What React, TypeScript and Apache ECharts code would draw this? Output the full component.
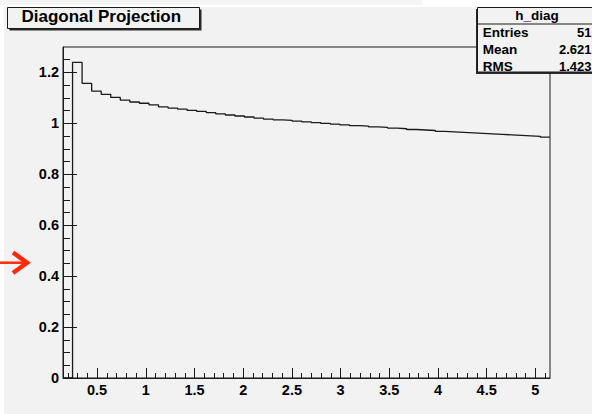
import React, { useEffect, useRef } from "react";
import * as echarts from "echarts";

// ---- data ----
const X_MIN = 0.15;
const X_MAX = 5.15;
const Y_MIN = 0;
const Y_MAX = 1.3;
const binValues = [
  0, 1.2395, 1.157, 1.127, 1.114, 1.102, 1.091, 1.084, 1.079, 1.073,
  1.065, 1.06, 1.056, 1.051, 1.047, 1.042, 1.037, 1.033, 1.029, 1.025,
  1.021, 1.017, 1.014, 1.012, 1.009, 1.006, 1.003, 1.0, 0.997, 0.994,
  0.991, 0.989, 0.986, 0.984, 0.981, 0.979, 0.976, 0.974, 0.972, 0.969,
  0.967, 0.965, 0.963, 0.961, 0.959, 0.957, 0.955, 0.953, 0.951, 0.949,
  0.946,
];
const xMajorTicks = [0.5, 1, 1.5, 2, 2.5, 3, 3.5, 4, 4.5, 5];
const xMinorTicks = Array.from({ length: 50 }, (_, k) => (k + 2) / 10);
const yMajorTicks = [0, 0.2, 0.4, 0.6, 0.8, 1, 1.2];
const yMinorTicks = Array.from({ length: 26 }, (_, k) => (k * 5) / 100);

const statsTitle = "h_diag";
const statsLabels = ["Entries", "Mean", "RMS"];
const statsValues = ["51", "2.621", "1.423"];
const chartTitle = "Diagonal Projection";

const FONT = '"Liberation Sans", Arial, Helvetica, sans-serif';
const BG = "#f2f2f2";
const INK = "#1a1a1a";

export default function App() {
  const ref = useRef<HTMLDivElement>(null);

  useEffect(() => {
    if (!ref.current) return;
    const chart = echarts.init(ref.current, undefined, { renderer: "svg" });
    const binW = (X_MAX - X_MIN) / binValues.length;
    const data: number[][] = binValues.map((v, i) => [X_MIN + i * binW, v]);
    data.push([X_MAX, binValues[binValues.length - 1]]);

    const axisLineStyle = { color: INK, width: 1 };
    const labelStyle = {
      fontFamily: FONT,
      fontWeight: "bold" as const,
      fontSize: 14.5,
      color: "#000",
    };

    const statsRows = [32, 49, 66];

    chart.setOption({
      animation: false,
      backgroundColor: "transparent",
      grid: {
        left: 63,
        top: 47,
        right: 42,
        bottom: 36,
        show: true,
        backgroundColor: "transparent",
        borderColor: INK,
        borderWidth: 1,
        containLabel: false,
        outerBoundsMode: "none",
      },
      xAxis: [
        {
          type: "value",
          min: X_MIN,
          max: X_MAX,
          position: "bottom",
          axisLine: { show: true, lineStyle: axisLineStyle },
          axisTick: {
            show: true,
            inside: true,
            length: 10,
            customValues: xMajorTicks,
            lineStyle: axisLineStyle,
          },
          axisLabel: { show: true, customValues: xMajorTicks, margin: 4, ...labelStyle },
          splitLine: { show: false },
        },
        {
          type: "value",
          min: X_MIN,
          max: X_MAX,
          position: "bottom",
          axisLine: { show: false },
          axisTick: {
            show: true,
            inside: true,
            length: 5,
            customValues: xMinorTicks,
            lineStyle: axisLineStyle,
          },
          axisLabel: { show: false },
          splitLine: { show: false },
        },
      ],
      yAxis: [
        {
          type: "value",
          min: Y_MIN,
          max: Y_MAX,
          position: "left",
          axisLine: { show: true, lineStyle: axisLineStyle },
          axisTick: {
            show: true,
            inside: true,
            length: 14,
            customValues: yMajorTicks,
            lineStyle: axisLineStyle,
          },
          axisLabel: { show: true, customValues: yMajorTicks, margin: 4, ...labelStyle },
          splitLine: { show: false },
        },
        {
          type: "value",
          min: Y_MIN,
          max: Y_MAX,
          position: "left",
          axisLine: { show: false },
          axisTick: {
            show: true,
            inside: true,
            length: 7,
            customValues: yMinorTicks,
            lineStyle: axisLineStyle,
          },
          axisLabel: { show: false },
          splitLine: { show: false },
        },
      ],
      series: [
        {
          type: "line",
          step: "end",
          xAxisIndex: 0,
          yAxisIndex: 0,
          data,
          symbol: "none",
          lineStyle: { color: INK, width: 1.3 },
          clip: true,
          silent: true,
        },
      ],
      graphic: [
        // title box
        { type: "rect", z: 100, shape: { x: 9.5, y: 9.5, width: 192, height: 21 }, style: { fill: "#2a2a2a" } },
        {
          type: "rect",
          z: 101,
          shape: { x: 7.5, y: 7.5, width: 192, height: 21 },
          style: { fill: BG, stroke: INK, lineWidth: 1 },
        },
        {
          type: "text",
          z: 102,
          x: 21.5,
          y: 16.8,
          style: {
            text: chartTitle,
            font: `bold 17px ${FONT}`,
            fill: "#000",
            verticalAlign: "middle",
            align: "left",
          },
        },
        // stats box
        { type: "rect", z: 100, shape: { x: 476, y: 9, width: 130, height: 65 }, style: { fill: "#2a2a2a" } },
        {
          type: "rect",
          z: 101,
          shape: { x: 477.5, y: 7.5, width: 130, height: 64.5 },
          style: { fill: BG, stroke: INK, lineWidth: 1 },
        },
        {
          type: "line",
          z: 102,
          shape: { x1: 477.5, y1: 24, x2: 600, y2: 24 },
          style: { stroke: INK, lineWidth: 1.2 },
        },
        {
          type: "text",
          z: 102,
          x: 537,
          y: 15.3,
          style: {
            text: statsTitle,
            font: `bold 13.5px ${FONT}`,
            fill: "#000",
            verticalAlign: "middle",
            align: "center",
          },
        },
        ...statsLabels.map((t, i) => ({
          type: "text",
          z: 102,
          x: 482.7,
          y: statsRows[i],
          style: {
            text: t,
            font: `bold 13.5px ${FONT}`,
            fill: "#000",
            verticalAlign: "middle",
            align: "left",
          },
        })),
        ...statsValues.map((t, i) => ({
          type: "text",
          z: 102,
          x: 591.5,
          y: statsRows[i],
          style: {
            text: t,
            font: `bold 13px ${FONT}`,
            fill: "#000",
            verticalAlign: "middle",
            align: "right",
          },
        })),
        // red arrow annotation
        {
          type: "line",
          z: 103,
          shape: { x1: 0, y1: 262.7, x2: 25, y2: 262.7 },
          style: { stroke: "#ff2a0a", lineWidth: 2.5 },
        },
        {
          type: "polyline",
          z: 103,
          shape: {
            points: [
              [13, 252.5],
              [27, 262.7],
              [13, 273],
            ],
          },
          style: { stroke: "#ff2a0a", lineWidth: 4.5, fill: "none", lineJoin: "miter" },
        },
      ],
    });

    return () => chart.dispose();
  }, []);

  return (
    <div
      style={{
        position: "fixed",
        left: 0,
        top: 0,
        width: 592,
        height: 414,
        background: "#ffffff",
        overflow: "hidden",
      }}
    >
      <div style={{ position: "absolute", left: 0, top: 0, width: 422, height: 5, background: "#f5f5f5" }} />
      <div style={{ position: "absolute", left: 4, top: 7, right: 0, bottom: 0, background: BG }} />
      <div ref={ref} style={{ position: "absolute", left: 0, top: 0, width: 592, height: 414 }} />
    </div>
  );
}
